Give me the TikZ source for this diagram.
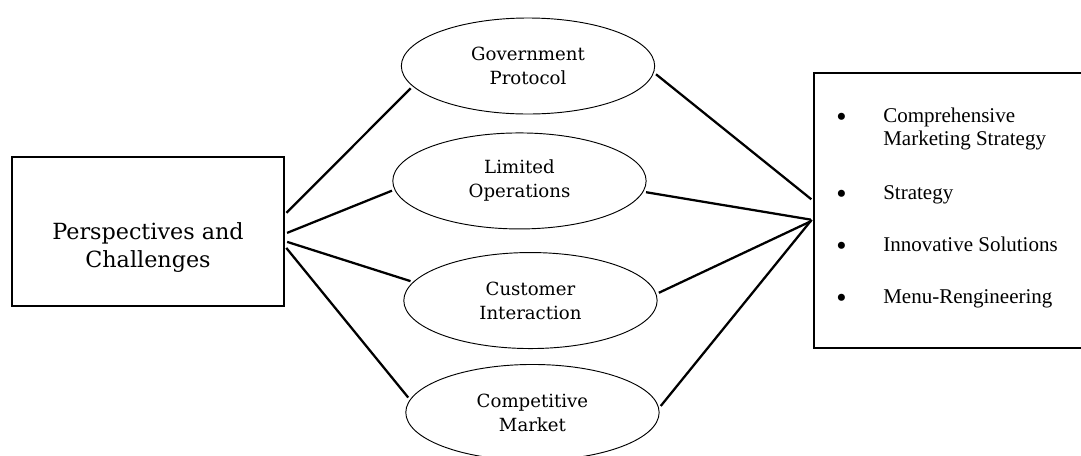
\documentclass[tikz,border=0pt]{standalone}
\usepackage{fontspec}
\usetikzlibrary{positioning,shapes.geometric}
\newfontfamily\listfont{Liberation Serif}
\newfontfamily\topicfont{DejaVu Serif}
\newcommand{\itemdot}{\raisebox{-3pt}{\fontsize{22}{17.5}\selectfont\textbullet}}

\begin{document}
\begin{tikzpicture}[x=0.75pt,y=-0.75pt,
    topic/.style={ellipse,draw,line width=0.7pt,minimum width=190pt,minimum height=72pt,inner sep=0pt,align=center,font=\topicfont\fontsize{13.6}{18}\selectfont},
    panel/.style={rectangle,draw,line width=0.9pt},
    link/.style={line width=1.7pt,shorten <=2pt,shorten >=2pt}]
    \useasboundingbox (0,0) rectangle (1081,455);
    \node [panel, minimum width=204pt, minimum height=111.75pt] (persp) at (148,231.5) {};
    \node [align=center, font=\topicfont\fontsize{16.7}{21}\selectfont] (persptext) at (148,248) {Perspectives and\\Challenges};
    \node [topic] (gov) at (528,66) {Government\\Protocol};
    \node [topic] [below=13.5pt of gov, xshift=-6.4pt] (lim) {Limited\\Operations};
    \node [topic] [below=17pt of lim, xshift=8.25pt] (cust) {Customer\\Interaction};
    \node [topic] [below=11.25pt of cust, xshift=1.5pt] (comp) {Competitive\\Market};
    \node [panel, minimum width=204pt, minimum height=206.25pt] (strat) at (950,210.5) {};
    \node [anchor=north west, inner sep=0pt, font=\listfont\fontsize{15.75}{17.5}\selectfont] (items) at (836,106) {%
      \begin{tabular}{@{}p{23.25pt}l@{}}
        \itemdot & Comprehensive\\
                 & Marketing Strategy\\[23pt]
        \itemdot & Strategy\\[21pt]
        \itemdot & Innovative Solutions\\[22pt]
        \itemdot & Menu-Rengineering
      \end{tabular}};
      \path[link]
      (persp.7) edge (gov.190)
      (persp.-1) edge (lim.184)
      (persp.-4) edge (cust.171)
      (persp.-6) edge (comp.174)
      (gov.-3) edge (strat.176)
      (lim.-5) edge (strat.184)
      (cust.3) edge (strat.184)
      (comp.2) edge (strat.183)
      ;
\end{tikzpicture}
\end{document}
